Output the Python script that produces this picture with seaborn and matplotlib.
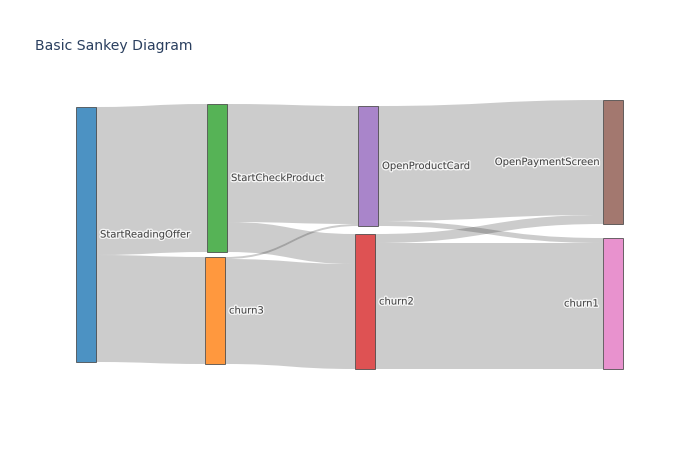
import numpy as np
import matplotlib
matplotlib.use("Agg")
import matplotlib.pyplot as plt
from matplotlib.path import Path
from matplotlib.patches import PathPatch, Rectangle
import matplotlib.patheffects as pe
import seaborn as sns

# ---------------- data ----------------
labels = ["StartReadingOffer", "churn3", "StartCheckProduct",
          "churn2", "OpenProductCard", "OpenPaymentScreen", "churn1"]
link_source = [0, 0, 2, 2, 1, 1, 4, 4, 3, 3]
link_target = [2, 1, 4, 3, 4, 3, 5, 6, 5, 6]
link_value = [148, 107, 118, 30, 2, 105, 115, 5, 9, 126]

# ---------------- layout (pixel positions, like plotly node.x / node.y) ----------------
node_left = [76, 205, 207, 355, 358, 603, 603]
node_top = [107, 257, 104, 234, 106, 100, 238]
node_w = 20
px_per_unit = 1.0
label_left_side = [False, False, False, False, False, True, True]

sns.set_theme(style="white")
plt.rcParams["font.family"] = ["DejaVu Sans"]
palette = sns.color_palette("tab10")

fig = plt.figure(figsize=(7, 4.5), dpi=100)
ax = fig.add_axes([0, 0, 1, 1])
ax.set_xlim(0, 700)
ax.set_ylim(450, 0)
ax.axis("off")

n = len(labels)
inflow = np.zeros(n)
outflow = np.zeros(n)
for s, t, v in zip(link_source, link_target, link_value):
    outflow[s] += v
    inflow[t] += v
heights = np.maximum(inflow, outflow) * px_per_unit
centers = [node_top[i] + heights[i] / 2 for i in range(n)]

# stacking offsets for links
out_off = {}
in_off = {}
for i in range(n):
    outs = sorted([k for k in range(len(link_value)) if link_source[k] == i],
                  key=lambda k: centers[link_target[k]])
    y = node_top[i]
    for k in outs:
        out_off[k] = y
        y += link_value[k] * px_per_unit
    ins = sorted([k for k in range(len(link_value)) if link_target[k] == i],
                 key=lambda k: centers[link_source[k]])
    y = node_top[i]
    for k in ins:
        in_off[k] = y
        y += link_value[k] * px_per_unit

# links
for k, (s, t, v) in enumerate(zip(link_source, link_target, link_value)):
    x0 = node_left[s] + node_w
    x1 = node_left[t]
    xm = (x0 + x1) / 2
    h = v * px_per_unit
    y0a, y0b = out_off[k], out_off[k] + h
    y1a, y1b = in_off[k], in_off[k] + h
    verts = [(x0, y0a), (xm, y0a), (xm, y1a), (x1, y1a),
             (x1, y1b), (xm, y1b), (xm, y0b), (x0, y0b), (x0, y0a)]
    codes = [Path.MOVETO, Path.CURVE4, Path.CURVE4, Path.CURVE4,
             Path.LINETO, Path.CURVE4, Path.CURVE4, Path.CURVE4, Path.CLOSEPOLY]
    ax.add_patch(PathPatch(Path(verts, codes), facecolor=(0, 0, 0, 0.2),
                           edgecolor="none", zorder=1))

# nodes
for i in range(n):
    c = palette[i]
    ax.add_patch(Rectangle((node_left[i], node_top[i]), node_w, heights[i],
                           facecolor=(*c, 0.8), edgecolor=(0.27, 0.27, 0.27, 0.8),
                           linewidth=0.7, zorder=2))
    halo = [pe.withStroke(linewidth=2.0, foreground=(1, 1, 1, 0.8))]
    if label_left_side[i]:
        ax.text(node_left[i] - 4, centers[i], labels[i], ha="right", va="center",
                fontsize=7.2, color="#444444", zorder=3, path_effects=halo)
    else:
        ax.text(node_left[i] + node_w + 4, centers[i], labels[i], ha="left",
                va="center", fontsize=7.2, color="#444444", zorder=3,
                path_effects=halo)

ax.text(35, 46, "Basic Sankey Diagram", ha="left", va="center",
        fontsize=10.1, color="#2a3f5f")

fig.savefig("out.png", dpi=100)
